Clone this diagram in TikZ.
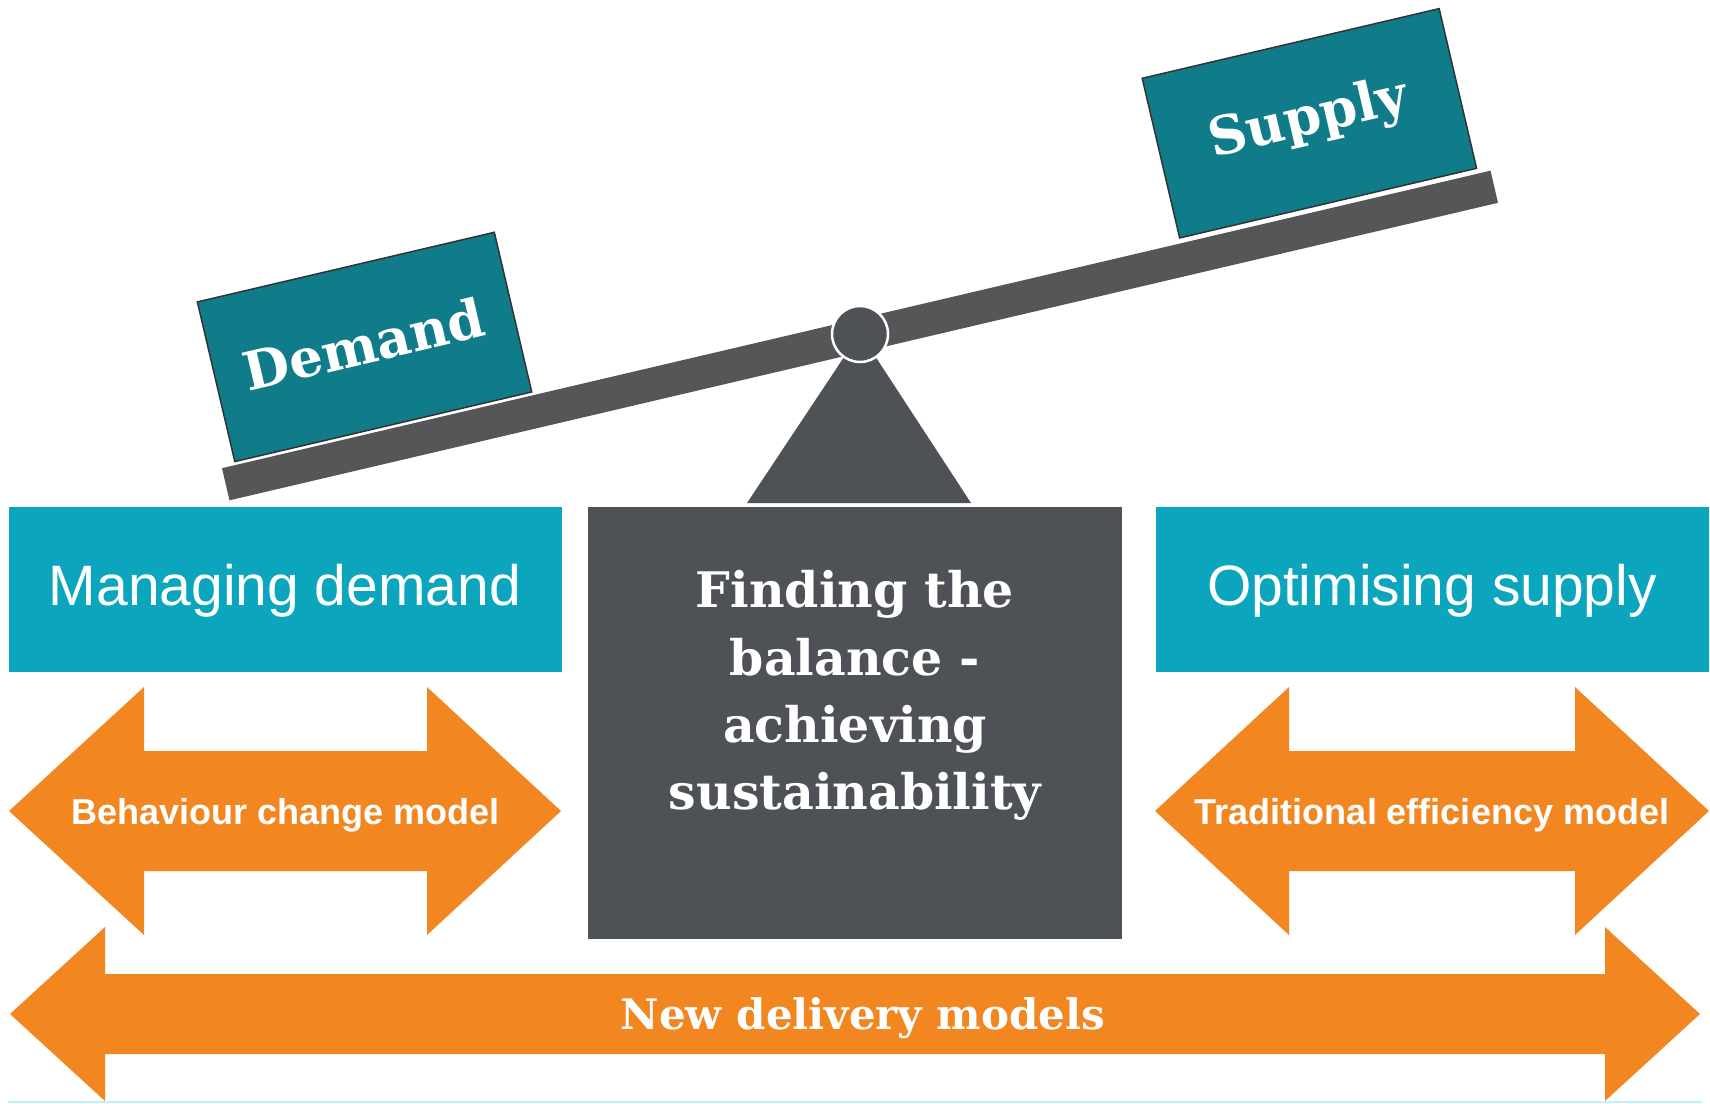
\documentclass[tikz,border=0pt]{standalone}
\usepackage{fontspec}
\setmainfont{Liberation Sans}
\newfontfamily\slab{DejaVu Serif}
\definecolor{tealdark}{RGB}{16,124,138}
\definecolor{teallight}{RGB}{11,166,190}
\definecolor{orng}{RGB}{242,135,34}
\definecolor{grayc}{RGB}{78,81,85}
\definecolor{plankc}{RGB}{86,86,89}
\definecolor{edgecyan}{RGB}{190,242,250}
\tikzset{
  lightbox/.style={fill=teallight, draw=none, inner sep=0pt, minimum width=553pt, minimum height=165pt},
  sanslabel/.style={text=white, inner sep=0pt, anchor=base, font=\fontsize{57}{60}\selectfont},
  arrowlabel/.style={text=white, inner sep=0pt, anchor=base, font=\bfseries\fontsize{36}{40}\selectfont},
  slablabel/.style={text=white, inner sep=0pt, anchor=base, font=\slab\bfseries\fontsize{49}{52}\selectfont},
  weightbox/.style={fill=tealdark, draw=black!80, line width=1.5pt, minimum width=305pt, minimum height=164pt, inner sep=0pt},
  weightlabel/.style={text=white, inner sep=0pt, font=\slab\bfseries\fontsize{53}{56}\selectfont},
  orangearrow/.style={fill=orng, draw=none},
}
\begin{document}
\begin{tikzpicture}[x=1pt,y=-1pt]
\fill[white] (0,0) rectangle (1710,1103);
\useasboundingbox (0,0) rectangle (1710,1103);

% side boxes
\node[lightbox] (md) at (285,589.5) {};
\node[sanslabel] (mdt) at (285,605) {Managing demand};
\node[lightbox] (os) at (1432.5,589.5) {};
\node[sanslabel] (ost) at (1432,605) {Optimising supply};

% centre box
\node[fill=grayc, inner sep=0pt, minimum width=534pt, minimum height=432pt] (fb) at (855,723) {};
\node[slablabel] (fb1) at (855,607) {Finding the};
\node[slablabel] (fb2) at (855,675) {balance -};
\node[slablabel] (fb3) at (855,742) {achieving};
\node[slablabel] (fb4) at (855,809) {sustainability};

% seesaw
\node[fill=plankc, inner sep=0pt, minimum width=1303pt, minimum height=33pt, rotate=13.2] (plank) at (860,335.5) {};
\fill[grayc] (747,503) -- (971,503) -- (860,333) -- cycle;
\node[circle, fill=grayc, draw=white, line width=2.5pt, minimum size=56pt, inner sep=0pt] (piv) at (860,334) {};
\begin{scope}[shift={(860,335.5)}, rotate=13.2]
  \node[weightbox, transform shape] (dem) at (-485,-102) {};
  \node[weightlabel, transform shape] (demt) at (-485,-105) {Demand};
  \node[weightbox, transform shape] (sup) at (486,-104) {};
  \node[weightlabel, transform shape] (supt) at (486,-107) {Supply};
\end{scope}

% left double arrow
\fill[orangearrow] (9,811) -- (144,687) -- (144,751) -- (427,751) -- (427,687) -- (561,811)
  -- (427,935) -- (427,871) -- (144,871) -- (144,935) -- cycle;
\node[arrowlabel] (bcm) at (285.5,824) {Behaviour change model};

% right double arrow
\fill[orangearrow] (1155,811) -- (1289,687) -- (1289,751) -- (1575,751) -- (1575,687) -- (1709,811)
  -- (1575,935) -- (1575,871) -- (1289,871) -- (1289,935) -- cycle;
\node[arrowlabel] (tem) at (1432,824) {Traditional efficiency model};

% bottom double arrow
\fill[orangearrow] (10,1014) -- (105,927) -- (105,974) -- (1605,974) -- (1605,927) -- (1700,1014)
  -- (1605,1101) -- (1605,1054) -- (105,1054) -- (105,1101) -- cycle;
\node[slablabel, font=\slab\bfseries\fontsize{42}{46}\selectfont] (ndm) at (863,1029) {New delivery models};

\draw[edgecyan, line width=2pt] (8,1102) -- (1702,1102);
\end{tikzpicture}
\end{document}
